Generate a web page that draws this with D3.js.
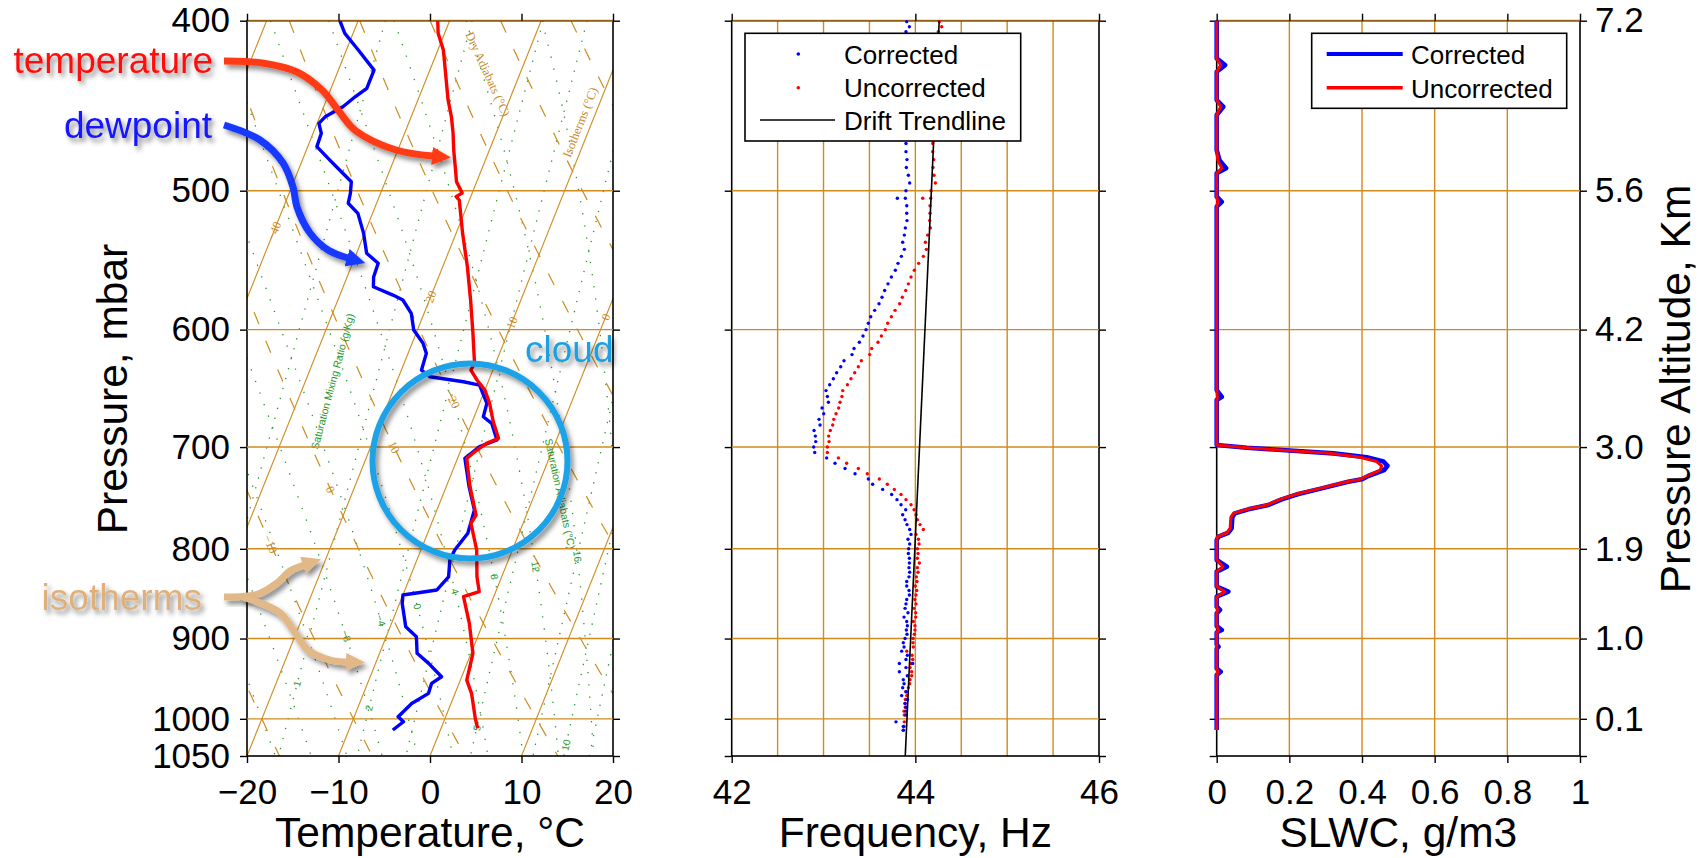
<!DOCTYPE html>
<html lang="en">
<head>
<meta charset="UTF-8">
<title>Sounding: skew-T, sensor frequency and SLWC</title>
<style>
  body { margin: 0; background: #fff; }
  svg { display: block; font-family: "Liberation Sans", Arial, Helvetica, sans-serif; }
</style>
</head>
<body>
<svg id="chart" width="1708" height="858"></svg>
<script src="https://cdnjs.cloudflare.com/ajax/libs/d3/7.9.0/d3.min.js"></script>
<script>
// ---- sounding: temperature and dewpoint (pressure mbar, deg C) ----
const tempP = [400, 406.7, 415.7, 424.9, 443.9, 453.8, 463.7, 474, 484.5, 494.2,
  501.5, 503.9, 506.2, 528.6, 552.5, 577.1, 602.7, 627.1, 632.7, 641,
  649.5, 661, 677.1, 692, 696.6, 704.2, 710.4, 737.4, 765.3, 773.6,
  801.3, 830, 846.3, 851.9, 882.2, 917.6, 950.4, 967.1, 999.3, 1012.5];
const tempC = [-31.3, -30.7, -29.4, -28.5, -26.7, -25.6, -24.7, -23.9, -23.0, -22.2,
  -21.1, -21.6, -21.1, -19.3, -17.3, -15.5, -13.8, -12.3, -12.4, -11.3,
  -10.0, -8.9, -7.7, -6.4, -7.5, -8.4, -9.0, -7.4, -5.5, -5.7,
  -3.9, -2.7, -1.8, -3.3, -1.5, 0.2, 0.7, 1.8, 3.3, 4.0];

const dewP = [400, 406.7, 415.7, 426.8, 437.1, 442, 447.8, 453.8, 457.7, 463.7,
  471.9, 480.3, 488.7, 494.2, 501.7, 508.3, 515.1, 528.8, 542.8, 550,
  560, 567.2, 573.4, 577.1, 587.3, 600.3, 610.9, 619, 632.7, 638.3,
  642.5, 645.3, 661, 672.7, 678.5, 693.5, 699.6, 710.4, 737.4, 760.3,
  783.9, 801.3, 811.8, 830, 844.4, 850, 859.6, 886.2, 897.9, 917.6,
  929.8, 946.3, 954.5, 967.1, 980, 997.2, 1003.8, 1014.8];
const dewC = [-42.0, -40.9, -38.7, -36.1, -36.1, -37.0, -37.9, -39.4, -39.8, -39.1,
  -39.0, -37.0, -35.0, -33.7, -33.3, -33.1, -31.6, -30.1, -28.9, -27.2,
  -27.1, -26.7, -24.2, -22.9, -21.4, -20.4, -18.8, -18.0, -17.8, -16.6,
  -12.7, -10.8, -9.2, -9.0, -7.8, -6.5, -8.1, -9.2, -7.5, -5.9,
  -5.6, -6.3, -6.4, -5.8, -6.5, -10.0, -9.7, -8.3, -6.7, -5.9,
  -4.2, -2.2, -3.0, -2.9, -4.3, -5.2, -4.4, -5.2];

// ---- sensor frequency (Hz) ----
const freqP = [400.5, 403.2, 405.8, 470, 475, 480, 485, 490, 495, 500,
  505, 505, 510, 515, 520, 525, 530, 535, 540, 545,
  550, 555, 560, 565, 570, 575, 580, 585, 590, 595,
  600, 605, 610, 615, 620, 625, 630, 635, 640, 645,
  650, 655, 660, 665, 670, 675, 680, 685, 690, 695,
  700, 705, 710, 715, 720, 725, 730, 735, 740, 745,
  750, 755, 760, 765, 770, 775, 780, 785, 790, 795,
  800, 805, 810, 815, 820, 825, 830, 835, 840, 845,
  850, 855, 860, 865, 870, 875, 880, 885, 890, 895,
  900, 905, 910, 915, 920, 925, 930, 930, 935, 940,
  945, 950, 955, 960, 965, 970, 975, 980, 985, 990,
  995, 1004, 1010, 1015];
const freqCorr = [43.906, 43.935, 43.898, 43.898, 43.898, 43.909, 43.902, 43.924, 43.938, 43.898,
  43.891, 43.804, 43.906, 43.906, 43.909, 43.891, 43.880, 43.862, 43.880, 43.848,
  43.811, 43.782, 43.739, 43.702, 43.666, 43.637, 43.604, 43.557, 43.514, 43.488,
  43.463, 43.430, 43.390, 43.332, 43.310, 43.223, 43.187, 43.143, 43.107, 43.067,
  43.027, 43.042, 43.053, 42.984, 43.002, 42.951, 42.962, 42.897, 42.911, 42.915,
  42.893, 42.904, 43.034, 43.125, 43.234, 43.343, 43.488, 43.535, 43.644, 43.742,
  43.800, 43.844, 43.895, 43.862, 43.888, 43.909, 43.938, 43.953, 43.920, 43.938,
  43.927, 43.924, 43.935, 43.935, 43.931, 43.938, 43.931, 43.906, 43.906, 43.931,
  43.935, 43.906, 43.898, 43.888, 43.920, 43.877, 43.906, 43.913, 43.902, 43.909,
  43.888, 43.869, 43.877, 43.851, 43.913, 43.898, 43.826, 43.971, 43.898, 43.826,
  43.913, 43.869, 43.877, 43.862, 43.898, 43.851, 43.913, 43.888, 43.898, 43.898,
  43.898, 43.789, 43.869, 43.869];
const freqUncorr = [44.261, 44.287, 44.250, 44.189, 44.189, 44.200, 44.192, 44.203, 44.218, 44.171,
  44.167, 44.080, 44.160, 44.160, 44.156, 44.163, 44.134, 44.109, 44.120, 44.087,
  44.036, 43.989, 43.953, 43.924, 43.895, 43.858, 43.829, 43.779, 43.739, 43.699,
  43.673, 43.630, 43.593, 43.525, 43.503, 43.412, 43.379, 43.339, 43.299, 43.260,
  43.209, 43.201, 43.180, 43.165, 43.136, 43.111, 43.100, 43.074, 43.056, 43.060,
  43.042, 43.042, 43.162, 43.252, 43.379, 43.477, 43.608, 43.695, 43.771, 43.844,
  43.898, 43.953, 43.986, 44.007, 44.022, 44.051, 44.087, 44.007, 44.033, 44.040,
  44.022, 44.029, 44.022, 44.044, 44.022, 44.029, 44.011, 44.018, 44.000, 44.015,
  44.007, 43.996, 44.007, 43.986, 44.004, 44.004, 43.978, 43.996, 43.996, 43.989,
  43.975, 43.975, 43.978, 43.906, 43.964, 43.971, 43.949, 43.960, 43.942, 43.960,
  43.960, 43.942, 43.938, 43.924, 43.898, 43.906, 43.891, 43.888, 43.891, 43.877,
  43.880, 43.880, 43.877, 43.869];
const trendP = [400, 1050];
const trendHz = [44.26, 43.89];

// ---- supercooled liquid water content (g/m3) ----
const slwcP = [400, 420.3, 424, 427.7, 443.9, 447.8, 452.7, 474, 480.5, 485.4,
  488.7, 503.9, 507.3, 510.6, 649.5, 655.3, 658.1, 698.1, 700.6, 702.7,
  705.8, 709.4, 713.4, 717.5, 721.4, 727.1, 730.3, 732.6, 739, 744.5,
  749.7, 755.3, 759.6, 763.6, 767.6, 778.8, 783.3, 787.3, 790.8, 811.8,
  819, 824.3, 840.7, 846.3, 851.9, 863.2, 866.9, 870.7, 885.4, 890,
  892.9, 907, 909.6, 912, 936, 940, 944, 1014.8];
const slwcCorr = [0, 0, 0.023, 0, 0, 0.018, 0, 0, 0.008, 0.026,
  0, 0, 0.014, 0, 0, 0.014, 0, 0, 0.083, 0.179,
  0.321, 0.413, 0.459, 0.470, 0.461, 0.417, 0.399, 0.362, 0.289, 0.225,
  0.179, 0.142, 0.087, 0.050, 0.043, 0.041, 0.032, 0.005, 0, 0,
  0.028, 0, 0, 0.032, 0, 0, 0.009, 0, 0, 0.014,
  0, 0, 0.005, 0, 0, 0.011, 0, 0];
const slwcUncorr = [0, 0, 0.011, 0, 0, 0.011, 0, 0, 0.003, 0.014,
  0, 0, 0.003, 0, 0, 0.002, 0, 0, 0.083, 0.174,
  0.312, 0.394, 0.440, 0.454, 0.450, 0.413, 0.394, 0.358, 0.284, 0.220,
  0.174, 0.138, 0.083, 0.046, 0.039, 0.037, 0.028, 0.002, 0, 0,
  0.017, 0, 0, 0.023, 0, 0, 0.002, 0, 0, 0.005,
  0, 0, 0, 0, 0, 0.003, 0, 0];

// ---- ticks ----
const pTicks = [400, 500, 600, 700, 800, 900, 1000, 1050];
const pGrid = [400, 500, 600, 700, 800, 900, 1000];
const tempTicks = [-20, -10, 0, 10, 20];
const freqTicks = [42, 44, 46];
const freqGrid = [42.5, 43, 43.5, 44, 44.5, 45, 45.5];
const slwcTicks = [0, 0.2, 0.4, 0.6, 0.8, 1];
const slwcGrid = [0.2, 0.4, 0.6, 0.8];
const altTickP = [400, 500, 600, 700, 800, 900, 1000];
const altTickLabels = ["7.2", "5.6", "4.2", "3.0", "1.9", "1.0", "0.1"];

// ---- skew-T reference lines ----
const isotherms = d3.range(-70, 30, 10);
const dryAdiabats = d3.range(-40, 80, 10);
const moistAdiabats = d3.range(-24, 36, 4);
const mixRatios = [0.4, 1, 2, 3, 5, 8, 10, 12, 16, 20];
const isoLabels = [[-40, 527], [-20, 577], [-10, 597], [0, 590]];
const dryLabels = [[-10, 795], [0, 740], [10, 700], [20, 660]];
const moistLabels = [[-8, 897], [-4, 879], [0, 863], [4, 846], [8, 830], [12, 819], [16, 808]];
const mixLabels = [[1, 955], [2, 986], [5, 1012], [10, 1035]];

const GRID = "#cf8b1e";
const GREEN = "#2a962a";
const SKEW = 0.4;

const svg = d3.select("#chart");
svg.append("rect").attr("width", 1708).attr("height", 858).attr("fill", "#fff");

const defs = svg.append("defs");
defs.append("filter").attr("id", "shadow")
    .attr("x", "-30%").attr("y", "-30%").attr("width", "160%").attr("height", "160%")
  .append("feDropShadow")
    .attr("dx", 3).attr("dy", 4).attr("stdDeviation", 2.5)
    .attr("flood-color", "#000").attr("flood-opacity", 0.45);

function marker(id, color) {
    defs.append("marker").attr("id", id)
        .attr("viewBox", "0 0 19 18").attr("refX", 1).attr("refY", 9)
        .attr("markerWidth", 19).attr("markerHeight", 18)
        .attr("markerUnits", "userSpaceOnUse").attr("orient", "auto")
      .append("path").attr("d", "M0,0 L19,9 L0,18 Z").attr("fill", color);
}
marker("headRed", "#ff3a12");
marker("headBlue", "#1438ff");
marker("headTan", "#e2b887");

// scales
const yP = d3.scaleLog().domain([400, 1050]).range([20.7, 756]);
const xT = d3.scaleLinear().domain([-20, 20]).range([247, 613]);
const xF = d3.scaleLinear().domain([42, 46]).range([731.7, 1099]);
const xS = d3.scaleLinear().domain([0, 1]).range([1216.7, 1580]);
const y0 = yP(400), y1 = yP(1050);

const skewX = (T, p) => xT(T) + SKEW * (y1 - yP(p));
const skewLine = d3.line().x(d => skewX(d[1], d[0])).y(d => yP(d[0]));

defs.append("clipPath").attr("id", "clipL").append("rect")
    .attr("x", xT.range()[0]).attr("y", y0)
    .attr("width", xT.range()[1] - xT.range()[0]).attr("height", y1 - y0);

// ---- physics for reference curves ----
const es = tc => 6.112 * Math.exp(17.67 * tc / (tc + 243.5));
function moistLapse(p, T) {
    const Rd = 287.04, cp = 1005.7, Lv = 2.501e6, eps = 0.622;
    const e = es(T - 273.15), rs = eps * e / (p - e);
    return (Rd * T + Lv * rs) / (p * (cp + Lv * Lv * rs * eps / (Rd * T * T)));
}
function moistCurve(tw) {
    const step = 5;
    let T = tw + 273.15, p = 1000;
    const up = [[p, T]];
    while (p > 400) {
        const k1 = moistLapse(p, T);
        const k2 = moistLapse(p - step / 2, T - k1 * step / 2);
        T -= k2 * step; p -= step; up.push([p, T]);
    }
    T = tw + 273.15; p = 1000;
    const down = [];
    while (p < 1050) {
        const k1 = moistLapse(p, T);
        const k2 = moistLapse(p + step / 2, T + k1 * step / 2);
        T += k2 * step; p += step; down.push([p, T]);
    }
    // ascending in pressure, like the other reference curves
    return up.reverse().concat(down).map(d => [d[0], d[1] - 273.15]);
}
const dryCurve = th => d3.range(400, 1051, 10).map(p => [p, (th + 273.15) * Math.pow(p / 1000, 0.2857) - 273.15]);
function mixCurve(w) {
    return d3.range(400, 1051, 10).map(p => {
        const a = Math.log(w * p / (622 + w) / 6.112);
        return [p, 243.5 * a / (17.67 - a)];
    });
}
function angleAt(curve, p) {
    const a = curve.reduce((b, d) => Math.abs(d[0] - p) < Math.abs(b[0] - p) ? d : b);
    const i = curve.indexOf(a), j = i > 0 ? i - 1 : i + 1;
    const b = curve[j];
    let ang = Math.atan2(yP(b[0]) - yP(a[0]), skewX(b[1], b[0]) - skewX(a[1], a[0])) * 180 / Math.PI;
    if (ang > 90) ang -= 180;
    if (ang <= -90) ang += 180;
    return ang;
}
function tAt(curve, p) {
    const i = d3.bisector(d => d[0]).left(curve, p);
    const a = curve[Math.max(0, i - 1)], b = curve[Math.min(curve.length - 1, i)];
    if (a[0] === b[0]) return a[1];
    return a[1] + (b[1] - a[1]) * (p - a[0]) / (b[0] - a[0]);
}

// ---- left panel background ----
const bg = svg.append("g").attr("clip-path", "url(#clipL)");

mixRatios.forEach(w => {
    bg.append("path").attr("d", skewLine(mixCurve(w))).attr("fill", "none")
      .attr("stroke", GREEN).attr("stroke-width", 1.3).attr("stroke-dasharray", "1.3,9");
});
moistAdiabats.forEach(t => {
    bg.append("path").attr("d", skewLine(moistCurve(t))).attr("fill", "none")
      .attr("stroke", GREEN).attr("stroke-width", 1.3).attr("stroke-dasharray", "1.3,11");
});
dryAdiabats.forEach(th => {
    bg.append("path").attr("d", skewLine(dryCurve(th))).attr("fill", "none")
      .attr("stroke", GRID).attr("stroke-width", 1.2).attr("stroke-dasharray", "13,18");
});
isotherms.forEach(T => {
    bg.append("path").attr("d", skewLine([[1050, T], [400, T]])).attr("fill", "none")
      .attr("stroke", GRID).attr("stroke-width", 1.1);
});

const labelFont = "'Liberation Serif', 'Times New Roman', serif";
const isoAng = Math.atan2(-1, SKEW) * 180 / Math.PI;
isoLabels.forEach(([T, p]) => {
    bg.append("text").attr("transform", `translate(${skewX(T, p)},${yP(p)}) rotate(${isoAng})`)
      .attr("text-anchor", "middle").attr("dy", "0.35em")
      .attr("font-family", labelFont).attr("font-size", 12).attr("fill", "#c98a2a")
      .text(d3.format("d")(T));
});
dryLabels.forEach(([th, p]) => {
    const c = dryCurve(th);
    bg.append("text").attr("transform", `translate(${skewX(tAt(c, p), p)},${yP(p)}) rotate(${angleAt(c, p)})`)
      .attr("text-anchor", "middle").attr("dy", "0.35em")
      .attr("font-family", labelFont).attr("font-size", 12).attr("fill", "#c98a2a")
      .text(d3.format("d")(th));
});
moistLabels.forEach(([t, p]) => {
    const c = moistCurve(t);
    bg.append("text").attr("transform", `translate(${skewX(tAt(c, p), p)},${yP(p)}) rotate(${angleAt(c, p)})`)
      .attr("text-anchor", "middle").attr("dy", "0.35em")
      .attr("font-size", 10).attr("fill", GREEN)
      .text(d3.format("d")(t));
});
mixLabels.forEach(([w, p]) => {
    const c = mixCurve(w);
    bg.append("text").attr("transform", `translate(${skewX(tAt(c, p), p)},${yP(p)}) rotate(${angleAt(c, p)})`)
      .attr("text-anchor", "middle").attr("dy", "0.35em")
      .attr("font-size", 10).attr("fill", GREEN)
      .text(w);
});
// reference line titles
const dc = dryCurve(45);
bg.append("text").attr("transform", `translate(${skewX(tAt(dc, 430), 430) - 6},${yP(430)}) rotate(${angleAt(dc, 430)})`)
  .attr("text-anchor", "middle").attr("font-family", labelFont).attr("font-size", 12.5)
  .attr("fill", "#c98a2a").text("Dry Adiabats (°C)");
bg.append("text").attr("transform", `translate(${skewX(-10.8, 458)},${yP(458)}) rotate(${isoAng})`)
  .attr("text-anchor", "middle").attr("font-family", labelFont).attr("font-size", 12.5)
  .attr("fill", "#c98a2a").text("Isotherms (°C)");
bg.append("text").attr("transform", `translate(${skewX(-26.6, 643)},${yP(643)}) rotate(-75)`)
  .attr("text-anchor", "middle").attr("font-size", 10.5).attr("fill", GREEN)
  .text("Saturation Mixing Ratio (g/Kg)");
bg.append("text").attr("transform", `translate(${skewX(2.4, 745)},${yP(745)}) rotate(78)`)
  .attr("text-anchor", "middle").attr("font-size", 10.5).attr("fill", GREEN)
  .text("Saturation Adiabats (°C)");

// ---- gridlines ----
function hGrid(x) {
    svg.append("g").selectAll("line").data(pGrid).join("line")
      .attr("x1", x.range()[0]).attr("x2", x.range()[1])
      .attr("y1", d => yP(d)).attr("y2", d => yP(d))
      .attr("stroke", GRID).attr("stroke-width", 1.4).attr("opacity", d => d === 400 ? 0.7 : 1);
}
function vGrid(x, vals) {
    svg.append("g").selectAll("line").data(vals).join("line")
      .attr("x1", d => x(d)).attr("x2", d => x(d)).attr("y1", y0).attr("y2", y1)
      .attr("stroke", GRID).attr("stroke-width", 1.4);
}
vGrid(xF, freqGrid);
vGrid(xS, slwcGrid);

// ---- frames and axes ----
function styleAxis(g) {
    g.select(".domain").remove();
    g.attr("font-family", null);
    g.selectAll(".tick line").attr("stroke", "#000").attr("stroke-width", 1.4);
    g.selectAll(".tick text").attr("font-size", 35).attr("fill", "#000");
}
const altFmt = p => { const i = altTickP.indexOf(p); return i < 0 ? "" : altTickLabels[i]; };
const slwcFmt = d => String(+d.toFixed(1));
const panels = [
    { x: xT, ticks: tempTicks, fmt: d3.format("d"), title: "Temperature, °C" },
    { x: xF, ticks: freqTicks, fmt: d3.format("d"), title: "Frequency, Hz" },
    { x: xS, ticks: slwcTicks, fmt: slwcFmt, title: "SLWC, g/m3" }
];
panels.forEach((pn, i) => {
    const [a, b] = pn.x.range();
    svg.append("rect").attr("x", a).attr("y", y0).attr("width", b - a).attr("height", y1 - y0)
      .attr("fill", "none").attr("stroke", "#000").attr("stroke-width", 1.6);
    hGrid(pn.x);
    svg.append("g").attr("transform", `translate(0,${y1})`)
      .call(d3.axisBottom(pn.x).tickValues(pn.ticks).tickFormat(pn.fmt).tickSize(7).tickPadding(16))
      .call(styleAxis);
    svg.append("g").attr("transform", `translate(0,${y0})`)
      .call(d3.axisTop(pn.x).tickValues(pn.ticks).tickFormat("").tickSize(7))
      .call(styleAxis);
    svg.append("g").attr("transform", `translate(${a},0)`)
      .call(d3.axisLeft(yP).tickValues(pTicks).tickFormat(i === 0 ? d3.format("d") : "").tickSize(7).tickPadding(10))
      .call(styleAxis);
    svg.append("g").attr("transform", `translate(${b},0)`)
      .call(d3.axisRight(yP).tickValues(pTicks).tickFormat(i === 2 ? altFmt : "").tickSize(7).tickPadding(8))
      .call(styleAxis);
    svg.append("text").attr("x", (a + b) / 2).attr("y", 847).attr("text-anchor", "middle")
      .attr("font-size", 42.5).text(pn.title);
});
svg.append("text").attr("transform", "translate(127,389) rotate(-90)")
  .attr("text-anchor", "middle").attr("font-size", 42.5).text("Pressure, mbar");
svg.append("text").attr("transform", "translate(1690,389) rotate(-90)")
  .attr("text-anchor", "middle").attr("font-size", 42.5).text("Pressure Altitude, Km");

// ---- left panel: sounding ----
const sound = svg.append("g").attr("clip-path", "url(#clipL)");
sound.append("path").attr("d", skewLine(dewP.map((p, i) => [p, dewC[i]])))
  .attr("fill", "none").attr("stroke", "#0000ff").attr("stroke-width", 3.4).attr("stroke-linejoin", "round");
sound.append("path").attr("d", skewLine(tempP.map((p, i) => [p, tempC[i]])))
  .attr("fill", "none").attr("stroke", "#ff0000").attr("stroke-width", 3.4).attr("stroke-linejoin", "round");

// ---- middle panel: frequency ----
const fg = svg.append("g");
fg.selectAll("circle.unc").data(freqP.map((p, i) => [p, freqUncorr[i]])).join("circle")
  .attr("class", "unc").attr("cx", d => xF(d[1])).attr("cy", d => yP(d[0])).attr("r", 1.7).attr("fill", "#ff0000");
fg.selectAll("circle.cor").data(freqP.map((p, i) => [p, freqCorr[i]])).join("circle")
  .attr("class", "cor").attr("cx", d => xF(d[1])).attr("cy", d => yP(d[0])).attr("r", 1.7).attr("fill", "#0000ff");
fg.append("path").attr("d", d3.line().x(d => xF(d[1])).y(d => yP(d[0]))(trendP.map((p, i) => [p, trendHz[i]])))
  .attr("fill", "none").attr("stroke", "#000").attr("stroke-width", 1.6);

// legend (frequency)
const lf = svg.append("g");
lf.append("rect").attr("x", 745).attr("y", 33.3).attr("width", 275.7).attr("height", 107.7)
  .attr("fill", "#fff").attr("stroke", "#000").attr("stroke-width", 1.6);
lf.append("circle").attr("cx", 798.3).attr("cy", 54).attr("r", 1.8).attr("fill", "#0000ff");
lf.append("circle").attr("cx", 798.3).attr("cy", 87.7).attr("r", 1.8).attr("fill", "#ff0000");
lf.append("line").attr("x1", 760).attr("x2", 835).attr("y1", 120).attr("y2", 120)
  .attr("stroke", "#000").attr("stroke-width", 1.6);
[["Corrected", 63.5], ["Uncorrected", 97], ["Drift Trendline", 130]].forEach(([t, y]) => {
    lf.append("text").attr("x", 844).attr("y", y).attr("font-size", 26).text(t);
});

// ---- right panel: SLWC ----
const sLine = d3.line().x(d => xS(d[1])).y(d => yP(d[0]));
svg.append("path").attr("d", sLine(slwcP.map((p, i) => [p, slwcCorr[i]])))
  .attr("fill", "none").attr("stroke", "#0000ff").attr("stroke-width", 4.6).attr("stroke-linejoin", "round");
svg.append("path").attr("d", sLine(slwcP.map((p, i) => [p, slwcUncorr[i]])))
  .attr("fill", "none").attr("stroke", "#ff0000").attr("stroke-width", 3).attr("stroke-linejoin", "round");

const ls = svg.append("g");
ls.append("rect").attr("x", 1311.7).attr("y", 33.3).attr("width", 255).attr("height", 75)
  .attr("fill", "#fff").attr("stroke", "#000").attr("stroke-width", 1.6);
ls.append("line").attr("x1", 1326.7).attr("x2", 1402.7).attr("y1", 54).attr("y2", 54)
  .attr("stroke", "#0000ff").attr("stroke-width", 4);
ls.append("line").attr("x1", 1326.7).attr("x2", 1402.7).attr("y1", 87.7).attr("y2", 87.7)
  .attr("stroke", "#ff0000").attr("stroke-width", 3.5);
[["Corrected", 64], ["Uncorrected", 97.7]].forEach(([t, y]) => {
    ls.append("text").attr("x", 1411).attr("y", y).attr("font-size", 26).text(t);
});

// ---- annotations ----
const ann = svg.append("g");
const curve = d3.line().curve(d3.curveCatmullRom.alpha(0.5));

ann.append("circle").attr("cx", 470).attr("cy", 461).attr("r", 97.5)
  .attr("fill", "none").attr("stroke", "#1ea2e6").attr("stroke-width", 6).attr("filter", "url(#shadow)");
ann.append("text").attr("x", 525).attr("y", 362).attr("font-size", 37).attr("fill", "#1ba0e2")
  .attr("filter", "url(#shadow)").text("cloud");

function arrow(pts, color, head) {
    ann.append("path").attr("d", curve(pts)).attr("fill", "none")
      .attr("stroke", color).attr("stroke-width", 7).attr("stroke-linecap", "butt")
      .attr("marker-end", `url(#${head})`).attr("filter", "url(#shadow)");
}
arrow([[224, 61], [262, 63], [297, 72], [322, 90], [338, 110], [356, 131], [396, 150], [433, 156]], "#ff3a12", "headRed");
arrow([[224, 125], [260, 140], [283, 163], [293, 187], [297, 207], [310, 233], [328, 250], [348, 258]], "#1438ff", "headBlue");
arrow([[224, 597], [258, 594], [277, 583], [290, 571], [304, 565]], "#e2b887", "headTan");
arrow([[242, 597], [279, 612], [294, 631], [308, 650], [330, 660], [347, 662]], "#e2b887", "headTan");

ann.append("text").attr("x", 213).attr("y", 73).attr("text-anchor", "end")
  .attr("font-size", 37).attr("fill", "#ff1010").attr("filter", "url(#shadow)").text("temperature");
ann.append("text").attr("x", 212).attr("y", 138).attr("text-anchor", "end")
  .attr("font-size", 37).attr("fill", "#1212ff").attr("filter", "url(#shadow)").text("dewpoint");
ann.append("text").attr("x", 202).attr("y", 610).attr("text-anchor", "end")
  .attr("font-size", 37).attr("fill", "#dfb07a").attr("filter", "url(#shadow)").text("isotherms");
</script>
</body>
</html>
